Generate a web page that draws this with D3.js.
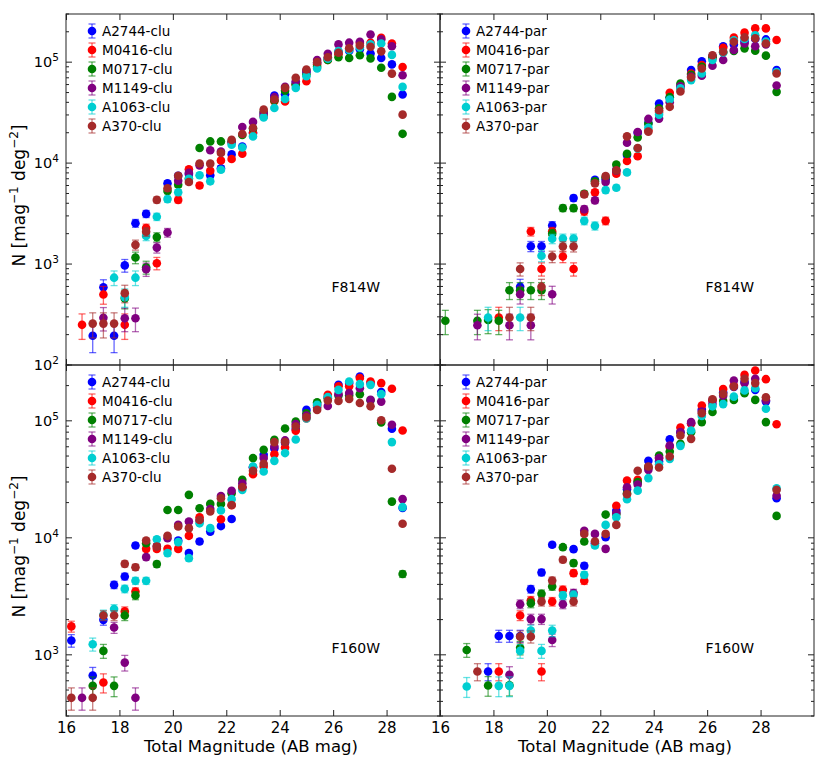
<!DOCTYPE html>
<html>
<head>
<meta charset="utf-8">
<script src="https://cdn.jsdelivr.net/npm/d3@7"></script>
<style>
  body { margin: 0; background: #fff; }
  svg { font-family: "DejaVu Sans", sans-serif; }
</style>
</head>
<body>
<div id="chart"></div>
<script>
// magnitude bin centres (AB mag)
const mags = [16.2,16.6,17.0,17.4,17.8,18.2,18.6,19.0,19.4,19.8,20.2,20.6,21.0,21.4,21.8,22.2,
              22.6,23.0,23.4,23.8,24.2,24.6,25.0,25.4,25.8,26.2,26.6,27.0,27.4,27.8,28.2,28.6];
const fields = ['A2744', 'M0416', 'M0717', 'M1149', 'A1063', 'A370'];
const colors = ['#0000ff', '#ff0000', '#008000', '#800080', '#00ced1', '#a52a2a'];
const xTicks = [16, 18, 20, 22, 24, 26, 28];
const yMajor = [1e2, 1e3, 1e4, 1e5];

// F814W, cluster fields
const a2744Clu814 = [null,null,195,590,195,970,2540,3140,null,6300,7500,7800,null,7580,8900,12200,14600,20000,30000,46800,48000,62000,80000,98000,110000,127000,129000,134000,122000,110000,95000,47800];
const m0416Clu814 = [null,250,null,500,null,250,null,2270,1020,null,4320,8700,6000,8400,10600,11000,12400,19900,29000,41000,40800,60000,64600,95000,105000,120000,135000,155000,156000,174000,153000,89500];
const m0717Clu814 = [null,null,null,null,null,455,1160,930,1850,5300,6100,7000,14100,16400,16400,16400,19000,22000,32000,42000,52000,60000,75400,90000,105000,112000,110000,117000,109000,88000,45300,19500];
const m1149Clu814 = [null,null,null,294,null,290,290,888,1455,2050,6700,8000,9500,13400,13000,16000,22800,25600,31400,45000,57000,64600,82000,105000,121000,150000,156000,159000,188000,168000,144000,74300];
const a1063Clu814 = [null,null,null,null,733,470,733,1900,2940,4400,5140,7000,7580,6600,8600,15200,14300,18400,28400,35200,43200,55600,72600,86500,108000,129000,132000,140000,150000,153000,118000,56900];
const a370Clu814  = [null,null,257,257,257,515,1550,2090,4320,5630,7500,6500,9900,9880,12600,17000,19400,22300,33900,42700,55600,70000,84600,100000,112000,124000,137000,146000,142000,128000,77000,30200];

// F814W, parallel fields
const a2744Par814 = [null,null,null,null,null,null,null,597,1500,1500,2410,null,4500,null,6840,6900,8500,12000,20000,25000,38900,45000,58000,83400,102000,115000,144000,150000,160000,170000,168000,83400];
const m0416Par814 = [null,null,null,null,null,296,null,null,2100,894,2100,1186,894,3310,5130,2680,7850,10500,11700,21000,32000,49700,55000,77300,93500,110000,139000,175000,196000,216000,216000,166000];
const m0717Par814 = [274,null,null,274,279,274,550,550,550,550,2000,3580,3580,4970,6600,7200,9700,12400,18000,24600,35000,45000,61400,75000,90000,112000,125000,129000,137000,130000,116000,50800];
const m1149Par814 = [null,null,null,248,null,null,248,502,248,null,502,null,null,3500,4270,6500,8400,15900,20300,27400,27600,40000,57800,72000,73300,92000,105000,132000,153000,144000,150000,58800];
const a1063Par814 = [null,null,null,null,296,null,null,296,null,1210,1780,1790,1790,2680,2390,5400,5700,8090,14000,22400,30200,42600,55000,66400,77300,105000,125000,165000,170000,185000,160000,80000];
const a370Par814  = [null,null,null,null,null,null,296,894,296,597,1186,1490,1490,4900,6300,7450,8470,18400,14100,20500,33400,36100,51200,70500,86400,117000,127000,159000,176000,172000,153000,77300];

// F160W, cluster fields
const a2744Clu160 = [1325,null,665,1990,3960,4670,8600,null,null,null,9490,7400,9300,11300,12600,14500,27000,40000,51200,58000,65000,85000,124000,140000,160000,203000,210000,239000,210000,176000,85500,18000];
const m0416Clu160 = [1750,null,null,580,null,2350,3470,8050,8050,8050,8050,10400,15000,null,14400,19000,27000,35000,40700,51900,59200,82200,105000,135000,167000,197000,197000,232000,217000,210000,188000,82600];
const m0717Clu160 = [null,null,543,1080,543,2170,3210,9000,5960,17300,17300,23300,17900,19500,19500,24000,31300,48000,56500,68800,86100,98700,116000,144000,156000,165000,165000,169000,150000,96800,20400,4900];
const m1149Clu160 = [null,429,null,null,1710,858,429,6840,8500,9930,12900,13800,14000,17600,22800,25200,29300,40000,48000,60400,68000,93700,111000,130000,134000,169000,173000,190000,151000,146000,92500,21400];
const a1063Clu160 = [null,null,1233,2200,2460,3660,4290,4290,9730,7400,9190,6700,13300,12100,17100,21400,25700,40700,36900,45500,53000,69300,105000,137000,160000,184000,217000,206000,203000,169000,65800,18300];
const a370Clu160  = [429,null,429,2170,2170,5990,5610,9480,8430,10400,12500,12100,14200,16800,21800,19100,27100,37400,42900,65800,65800,89500,107000,124000,149000,148000,154000,142000,133000,101000,38900,13200];

// F160W, parallel fields
const a2744Par160 = [null,null,null,null,720,1450,1450,1450,3640,5060,8720,null,8000,5770,9000,10100,17000,26000,30000,45500,45000,69600,80000,95000,125000,150000,175000,195000,215000,184000,146000,21800];
const m0416Par160 = [null,null,null,null,null,720,null,2170,2910,720,2850,3600,4990,4290,null,null,18800,30900,31300,40000,48000,60000,87700,95000,135000,150000,187000,200000,247000,269000,227000,93500];
const m0717Par160 = [null,null,1100,null,547,null,550,1150,2760,3320,3840,8320,6080,9300,null,15800,16000,24000,30000,40000,50500,54700,63500,80000,97500,119000,148000,151000,172000,151000,97500,15400];
const m1149Par160 = [null,null,null,null,null,null,675,2710,2020,2020,1340,2710,3370,11500,10800,8050,16300,27000,28600,38100,48000,61500,80000,97500,120000,140000,164000,221000,210000,229000,150000,22900];
const a1063Par160 = [null,null,536,null,null,543,543,1080,1610,1080,1610,3220,3260,4830,8600,12900,15000,21400,25300,32400,42600,47300,61100,82600,110000,133000,139000,161000,182000,190000,127000,26500];
const a370Par160  = [null,null,null,720,null,null,null,1430,1430,2850,4320,6490,2850,10800,9300,10800,12900,23600,37400,40700,39900,49600,75000,70100,116000,153000,170000,196000,229000,210000,159000,25700];

const pw = 374, ph = 351;
const panels = [
  { x0: 66,  y0: 14,  yMin: 100, kind: 'clu', band: 'F814W', bandY: 278, left: true,  bottom: false,
    series: [a2744Clu814, m0416Clu814, m0717Clu814, m1149Clu814, a1063Clu814, a370Clu814] },
  { x0: 440, y0: 14,  yMin: 100, kind: 'par', band: 'F814W', bandY: 278, left: false, bottom: false,
    series: [a2744Par814, m0416Par814, m0717Par814, m1149Par814, a1063Par814, a370Par814] },
  { x0: 66,  y0: 365, yMin: 300, kind: 'clu', band: 'F160W', bandY: 288, left: true,  bottom: true,
    series: [a2744Clu160, m0416Clu160, m0717Clu160, m1149Clu160, a1063Clu160, a370Clu160] },
  { x0: 440, y0: 365, yMin: 300, kind: 'par', band: 'F160W', bandY: 288, left: false, bottom: true,
    series: [a2744Par160, m0416Par160, m0717Par160, m1149Par160, a1063Par160, a370Par160] }
];

const svg = d3.select('#chart').append('svg')
  .attr('width', 830)
  .attr('height', 762);

panels.forEach(function (p, pi) {
  const x = d3.scaleLinear().domain([16, 30]).range([p.x0, p.x0 + pw]);
  const y = d3.scaleLog().domain([p.yMin, 3e5]).range([p.y0 + ph, p.y0]);
  const g = svg.append('g');

  const clipId = 'clip' + pi;
  svg.append('clipPath').attr('id', clipId)
    .append('rect').attr('x', p.x0).attr('y', p.y0).attr('width', pw).attr('height', ph);

  // points with poisson-like error bars
  const plot = g.append('g').attr('clip-path', 'url(#' + clipId + ')');
  p.series.forEach(function (vals, si) {
    const pts = mags.map((m, j) => ({ m: m, v: vals[j] })).filter(d => d.v != null);
    const s = plot.append('g');
    const bars = s.selectAll('g.eb').data(pts).enter().append('g')
      .attr('stroke', colors[si])
      .attr('stroke-opacity', 0.6)
      .attr('stroke-width', 1.3);
    const err = d => Math.sqrt(d.v * 20);
    bars.append('line')
      .attr('x1', d => x(d.m)).attr('x2', d => x(d.m))
      .attr('y1', d => y(d.v + err(d))).attr('y2', d => y(d.v - err(d)));
    bars.append('line')
      .attr('x1', d => x(d.m) - 3.5).attr('x2', d => x(d.m) + 3.5)
      .attr('y1', d => y(d.v + err(d))).attr('y2', d => y(d.v + err(d)));
    bars.append('line')
      .attr('x1', d => x(d.m) - 3.5).attr('x2', d => x(d.m) + 3.5)
      .attr('y1', d => y(d.v - err(d))).attr('y2', d => y(d.v - err(d)));
    s.selectAll('circle').data(pts).enter().append('circle')
      .attr('cx', d => x(d.m))
      .attr('cy', d => y(d.v))
      .attr('r', 4.3)
      .attr('fill', colors[si]);
  });

  // frame
  g.append('rect')
    .attr('x', p.x0).attr('y', p.y0).attr('width', pw).attr('height', ph)
    .attr('fill', 'none').attr('stroke', '#222').attr('stroke-width', 1);

  // x ticks, inward on bottom and top
  const xb = g.append('g').attr('transform', 'translate(0,' + (p.y0 + ph) + ')')
    .call(d3.axisBottom(x).tickValues(xTicks).tickSizeInner(-6).tickSizeOuter(0).tickPadding(6)
      .tickFormat(p.bottom ? d3.format('d') : ''));
  xb.select('.domain').remove();
  xb.selectAll('text').attr('font-size', 15).attr('fill', '#000').attr('font-family', 'DejaVu Sans');
  xb.selectAll('.tick line').attr('stroke', '#222');
  const xt = g.append('g').attr('transform', 'translate(0,' + p.y0 + ')')
    .call(d3.axisTop(x).tickValues(xTicks).tickSizeInner(-6).tickSizeOuter(0).tickFormat(''));
  xt.select('.domain').remove();
  xt.selectAll('.tick line').attr('stroke', '#222');

  // y ticks, inward on left and right
  const minor = y.ticks().filter(v => yMajor.indexOf(v) < 0);
  [[p.x0, 1], [p.x0 + pw, -1]].forEach(function (side) {
    g.selectAll(null).data(yMajor.filter(v => v >= p.yMin)).enter().append('line')
      .attr('x1', side[0]).attr('x2', side[0] + side[1] * 6)
      .attr('y1', d => y(d)).attr('y2', d => y(d))
      .attr('stroke', '#222');
    g.selectAll(null).data(minor).enter().append('line')
      .attr('x1', side[0]).attr('x2', side[0] + side[1] * 3)
      .attr('y1', d => y(d)).attr('y2', d => y(d))
      .attr('stroke', '#222');
  });

  if (p.left) {
    const lab = g.selectAll(null).data(yMajor.filter(v => v >= p.yMin)).enter().append('text')
      .attr('x', p.x0 - 7)
      .attr('y', d => y(d) + 5)
      .attr('text-anchor', 'end')
      .attr('font-size', 14.5);
    lab.append('tspan').text('10');
    lab.append('tspan').attr('dy', -6).attr('font-size', 10.5).text(d => Math.round(Math.log10(d)));

    const yl = g.append('text')
      .attr('transform', 'translate(25,' + (p.y0 + ph / 2 + 6) + ') rotate(-90)')
      .attr('text-anchor', 'middle')
      .attr('font-size', 17);
    yl.append('tspan').text('N [mag');
    yl.append('tspan').attr('dy', -7).attr('font-size', 12).text('\u22121');
    yl.append('tspan').attr('dy', 7).text(' deg');
    yl.append('tspan').attr('dy', -7).attr('font-size', 12).text('\u22122');
    yl.append('tspan').attr('dy', 7).text(']');
  }

  if (p.bottom) {
    g.append('text')
      .attr('x', p.x0 + pw * 0.5 - 2)
      .attr('y', 752)
      .attr('text-anchor', 'middle')
      .attr('font-size', 16.5)
      .text('Total Magnitude (AB mag)');
  }

  // band label
  g.append('text')
    .attr('x', p.x0 + 314)
    .attr('y', p.y0 + p.bandY)
    .attr('text-anchor', 'end')
    .attr('font-size', 14)
    .text(p.band);

  // legend
  const leg = g.selectAll('g.leg').data(fields).enter().append('g')
    .attr('transform', (d, i) => 'translate(' + (p.x0 + 26) + ',' + (p.y0 + 17 + i * 19) + ')');
  leg.append('line').attr('y1', -7).attr('y2', 7)
    .attr('stroke', (d, i) => colors[i]).attr('stroke-opacity', 0.6).attr('stroke-width', 1.3);
  leg.append('line').attr('x1', -3.5).attr('x2', 3.5).attr('y1', -7).attr('y2', -7)
    .attr('stroke', (d, i) => colors[i]).attr('stroke-opacity', 0.6).attr('stroke-width', 1.3);
  leg.append('line').attr('x1', -3.5).attr('x2', 3.5).attr('y1', 7).attr('y2', 7)
    .attr('stroke', (d, i) => colors[i]).attr('stroke-opacity', 0.6).attr('stroke-width', 1.3);
  leg.append('circle').attr('r', 4.3).attr('fill', (d, i) => colors[i]);
  leg.append('text')
    .attr('x', 10)
    .attr('y', 5)
    .attr('font-size', 13.5)
    .text(d => d + '-' + p.kind);
});
</script>
</body>
</html>
